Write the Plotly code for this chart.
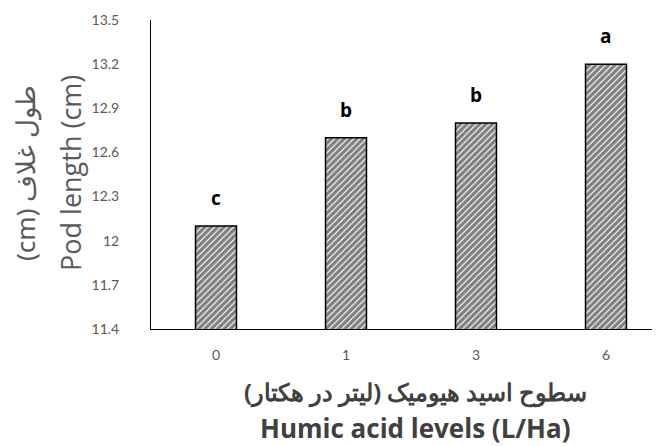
import plotly.graph_objects as go

categories = ["0", "1", "3", "6"]
pod_length = [12.1, 12.7, 12.8, 13.2]
letters = ["c", "b", "b", "a"]
y_ticks = [11.4, 11.7, 12.0, 12.3, 12.6, 12.9, 13.2, 13.5]
y_tick_labels = ["11.4", "11.7", "12", "12.3", "12.6", "12.9", "13.2", "13.5"]

x_pos = list(range(len(categories)))
FONT = "Lato"
TFONT = "Open Sans"
GRAY = "#595959"
DARK = "#404040"

fig = go.Figure()
fig.add_trace(go.Bar(
    x=x_pos, y=pod_length, width=0.315,
    marker=dict(color="white",
                line=dict(color="black", width=1.5),
                pattern=dict(shape="/", fgcolor="black", bgcolor="white", size=4.5, solidity=0.75)),
))

annotations = []
for xi, v, t in zip(x_pos, pod_length, letters):
    annotations.append(dict(x=xi, y=v, xref="x", yref="y", text="<b>%s</b>" % t,
                            showarrow=False, yanchor="bottom", yshift=13,
                            font=dict(family=TFONT, size=19, color="black")))

annotations += [
    dict(x=0, y=0.505, xref="paper", yref="paper", xshift=-80, text="Pod length (cm)",
         textangle=-90, showarrow=False, xanchor="center", yanchor="middle",
         font=dict(family=TFONT, size=27, color=GRAY)),
    dict(x=0, y=0.505, xref="paper", yref="paper", xshift=-126, text="\u202bطول غلاف (cm)\u202c",
         textangle=-90, showarrow=False, xanchor="center", yanchor="middle",
         font=dict(family="Noto Sans", size=26, color=GRAY)),
    dict(x=0, y=0, xref="paper", yref="paper", xshift=264, yshift=-63,
         text="<b>\u202bسطوح اسید هیومیک (لیتر در هکتار)\u202c</b>",
         showarrow=False, xanchor="center", yanchor="middle",
         font=dict(family="Noto Sans", size=23.5, color=DARK)),
    dict(x=0, y=0, xref="paper", yref="paper", xshift=264, yshift=-99,
         text="<b>Humic acid levels (L/Ha)</b>",
         showarrow=False, xanchor="center", yanchor="middle",
         font=dict(family=TFONT, size=26, color=DARK)),
]

# page body has an 8px margin, so margins are reduced by 8px
fig.update_layout(
    width=660, height=446,
    margin=dict(l=143, r=0, t=12, b=125),
    plot_bgcolor="white", paper_bgcolor="white",
    showlegend=False,
    annotations=annotations,
    xaxis=dict(range=[-0.5, 3.477], tickmode="array", tickvals=x_pos, ticktext=categories,
               showline=True, linecolor="black", linewidth=1, showgrid=False, zeroline=False,
               ticks="", ticklabelstandoff=13,
               tickfont=dict(family=FONT, size=14, color=GRAY)),
    yaxis=dict(range=[11.4, 13.5], tickmode="array", tickvals=y_ticks, ticktext=y_tick_labels,
               showline=True, linecolor="black", linewidth=1, showgrid=False, zeroline=False,
               ticks="", ticklabelstandoff=28,
               tickfont=dict(family=FONT, size=14, color=GRAY)),
)

fig.write_html("out.html")
